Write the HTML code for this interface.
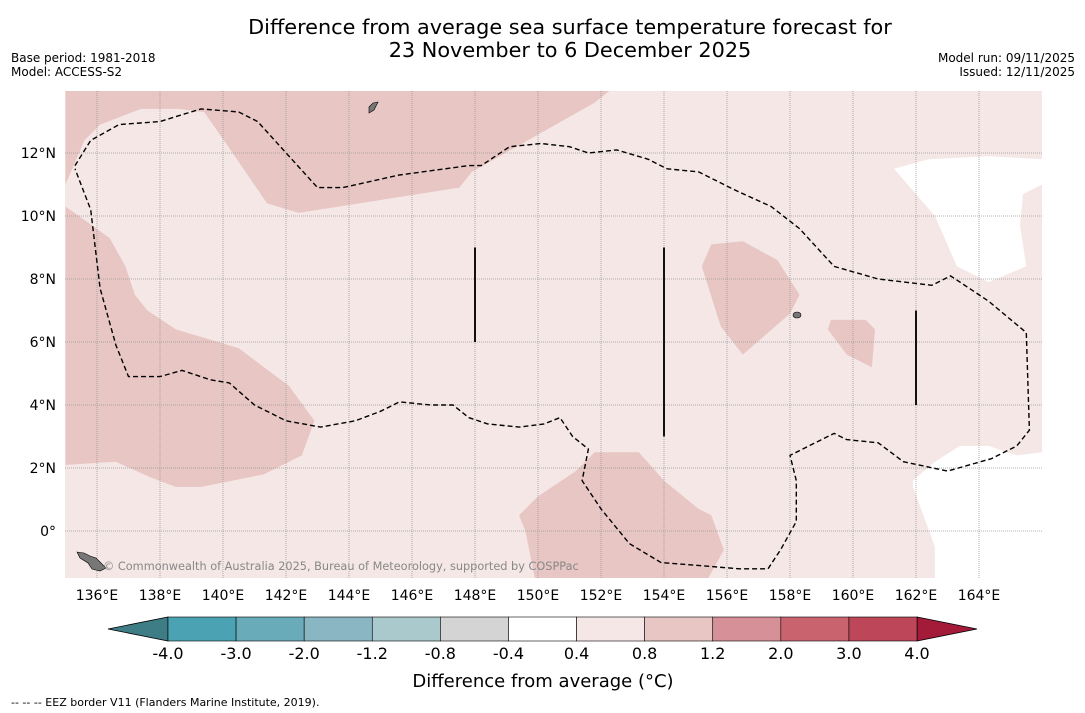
<!DOCTYPE html>
<html><head><meta charset="utf-8">
<style>
body{margin:0;background:#fff;font-family:"DejaVu Sans","Liberation Sans",sans-serif;}
svg{display:block}
</style></head><body>
<svg id="chart" width="1085" height="713" viewBox="0 0 1085 713">
<rect width="1085" height="713" fill="#fff"/>
<text x="570" y="34" text-anchor="middle" font-size="20.8">Difference from average sea surface temperature forecast for</text>
<text x="570" y="57" text-anchor="middle" font-size="20.8">23 November to 6 December 2025</text>
<text x="11" y="62" font-size="12">Base period: 1981-2018</text>
<text x="11" y="76" font-size="12">Model: ACCESS-S2</text>
<text x="1075" y="62" font-size="12" text-anchor="end">Model run: 09/11/2025</text>
<text x="1075" y="76" font-size="12" text-anchor="end">Issued: 12/11/2025</text>
<g id="map"></g>
<g id="cbar"></g>
<text x="543" y="687" text-anchor="middle" font-size="18">Difference from average (°C)</text>
<text x="11" y="706" font-size="11">--  --  -- EEZ border V11 (Flanders Marine Institute, 2019).</text>
</svg>
<script>
const NS="http://www.w3.org/2000/svg";
const lonTicks=[136,138,140,142,144,146,148,150,152,154,156,158,160,162,164];
const latTicks=[0,2,4,6,8,10,12];
const darkTop=[[135,14],[152.3,14],[151.8,13.6],[147.9,11.4],[147.5,10.9],[142.4,10.1],[141.4,10.4],[140.1,12.3],[139.4,13.3],[138.6,13.4],[137.4,13.4],[136.1,12.9],[135.6,12.4],[135,11.0]];
const darkLeft=[[135,10.3],[136.4,9.3],[136.9,8.4],[137.2,7.5],[137.6,7.0],[138.5,6.4],[140.5,5.8],[142.1,4.6],[142.9,3.5],[142.5,2.4],[141.3,1.8],[139.3,1.4],[138.5,1.4],[137.7,1.7],[136.6,2.2],[135,2.1]];
const darkBottom=[[149.4,0.5],[150,1.1],[151.2,1.9],[151.8,2.5],[153.2,2.5],[154,1.6],[155.1,0.7],[155.5,0.5],[155.9,-0.6],[155.4,-1.5],[149.9,-1.5],[149.6,0.0]];
const darkRight=[[155.5,9.1],[156.5,9.2],[157.6,8.6],[158.3,7.5],[158.0,6.9],[156.5,5.6],[155.8,6.5],[155.2,8.4]];
const darkSmall=[[159.3,6.7],[160.4,6.7],[160.7,6.4],[160.6,5.2],[159.8,5.6],[159.2,6.4]];
const whiteUpper=[[161.3,11.5],[162.4,11.8],[164.3,11.9],[166,11.8],[166,11.0],[165.4,10.7],[165.3,9.7],[165.5,8.4],[164.3,7.9],[163.3,8.4],[162.6,10.0]];
const whiteLower=[[161.9,1.6],[162.6,2.2],[163.4,2.7],[164.3,2.7],[165.2,2.4],[166,2.5],[166,-1.5],[162.6,-1.5],[162.6,-0.5],[161.9,1.4]];
const eez=[[135.3,11.6],[135.8,12.4],[136.7,12.9],[138,13.0],[139.3,13.4],[140.5,13.3],[141.1,13.0],[143.0,10.9],[143.8,10.9],[145.6,11.3],[147.8,11.6],[148.2,11.6],[149.1,12.2],[150.1,12.3],[151,12.2],[151.6,12.0],[152.5,12.1],[153.5,11.8],[154.1,11.5],[155.1,11.4],[156.3,10.8],[157.4,10.3],[158.3,9.6],[159.4,8.4],[160.8,8.0],[162.5,7.8],[163.1,8.1],[164.3,7.3],[165.5,6.3],[165.6,3.2],[165.2,2.7],[164.4,2.3],[163.0,1.9],[161.6,2.2],[160.8,2.8],[159.8,2.9],[159.4,3.1],[158.6,2.7],[158.0,2.4],[158.2,1.6],[158.2,0.3],[157.7,-0.6],[157.3,-1.2],[156.4,-1.2],[153.9,-1.0],[152.9,-0.4],[152,0.7],[151.4,1.6],[151.6,2.6],[151.1,3.0],[150.7,3.6],[150.2,3.4],[149.4,3.3],[148.4,3.4],[147.8,3.6],[147.3,4.0],[146.6,4.0],[145.6,4.1],[145,3.8],[144.2,3.5],[143.1,3.3],[142,3.5],[141,4.0],[140.2,4.7],[139.6,4.8],[138.7,5.1],[138,4.9],[137,4.9],[136.6,5.9],[136.1,7.7],[135.8,10.2],[135.3,11.5]];
const blackLines=[[148,9,6],[154,9,3],[162,7,4]];
const cbLevels=["-4.0","-3.0","-2.0","-1.2","-0.8","-0.4","0.4","0.8","1.2","2.0","3.0","4.0"];
const cbColors=["#4aa2b2","#69abb9","#89b6c2","#a9c9cc","#d4d4d4","#ffffff","#f4e7e6","#e7c6c3","#d69097","#c9646f","#bd4658"];

const X0=65,X1=1042,Y0=91,Y1=578;
const lx=l=>97+(l-136)*31.5;
const ly=a=>531-a*31.5;
const map=document.getElementById('map');
function mk(tag,at,parent){const e=document.createElementNS(NS,tag);for(const k in at)e.setAttribute(k,at[k]);(parent||map).appendChild(e);return e;}
const clip=mk('clipPath',{id:'mc'});mk('rect',{x:X0,y:Y0,width:X1-X0,height:Y1-Y0},clip);
const g=mk('g',{'clip-path':'url(#mc)'});
const bg=mk('rect',{x:X0,y:Y0,width:X1-X0,height:Y1-Y0,fill:'#f4e7e6'},g);


const pts=a=>a.map(p=>lx(p[0]).toFixed(1)+','+ly(p[1]).toFixed(1)).join(' ');
[[darkTop,'#e7c6c3','warm-region-north'],[darkLeft,'#e7c6c3','warm-region-west'],[darkBottom,'#e7c6c3','warm-region-south'],[darkRight,'#e7c6c3','warm-region-east'],[darkSmall,'#e7c6c3','warm-region-small'],[whiteUpper,'#ffffff','neutral-region-northeast'],[whiteLower,'#ffffff','neutral-region-southeast']].forEach(d=>{
  const p=mk('polygon',{points:pts(d[0]),fill:d[1]},g);
  
  
});
lonTicks.forEach(l=>{
  const ln=mk('line',{x1:lx(l),x2:lx(l),y1:Y0,y2:Y1,stroke:'#999','stroke-width':0.8,'stroke-dasharray':'1,1'},g);
  
  
  const t=mk('text',{x:lx(l),y:600,'text-anchor':'middle','font-size':14});
  t.textContent=l+'°E';
  
  
});
latTicks.forEach(a=>{
  const ln=mk('line',{x1:X0,x2:X1,y1:ly(a),y2:ly(a),stroke:'#999','stroke-width':0.8,'stroke-dasharray':'1,1'},g);
  
  
  const t=mk('text',{x:56,y:ly(a)+5,'text-anchor':'end','font-size':14});
  t.textContent=a===0?'0°':a+'°N';
  
  
});
const eL=mk('polyline',{points:pts(eez),fill:'none',stroke:'#000','stroke-width':1.4,'stroke-dasharray':'5,3'},g);


blackLines.forEach(b=>{
  const l=mk('line',{x1:lx(b[0]),x2:lx(b[0]),y1:ly(b[1]),y2:ly(b[2]),stroke:'#111','stroke-width':2},g);
  
  
});
const isl=mk('polygon',{points:'77,552 84,553 90,556 96,558 101,563 106,568 100,571 92,569 88,563 80,558',fill:'#777',stroke:'#000','stroke-width':0.6},g);


const isl2=mk('polygon',{points:'369,107 373,103 378,102 374,110 369,113',fill:'#777',stroke:'#000','stroke-width':0.6},g);


const isl3=mk('ellipse',{cx:797,cy:315,rx:4,ry:3,fill:'#777',stroke:'#000','stroke-width':0.6},g);


const cr=mk('text',{x:103,y:570,'font-size':11.3,fill:'#888'},g);
cr.textContent='© Commonwealth of Australia 2025, Bureau of Meteorology, supported by COSPPac';



// colorbar
const cb=document.getElementById('cbar');
const cx0=168,cx1=917,cy0=617,cy1=641,n=cbColors.length,w=(cx1-cx0)/n;
const tl=mk('polygon',{points:`108,629 ${cx0},${cy0} ${cx0},${cy1}`,fill:'#3e7c86',stroke:'#000','stroke-width':0.8},cb);


const tr=mk('polygon',{points:`977,629 ${cx1},${cy0} ${cx1},${cy1}`,fill:'#a41b3a',stroke:'#000','stroke-width':0.8},cb);


cbColors.forEach((c,i)=>{
  const r=mk('rect',{x:cx0+i*w,y:cy0,width:w,height:cy1-cy0,fill:c,stroke:'#000','stroke-width':0.6},cb);
  
  
});
cbLevels.forEach((s,i)=>{
  const t=mk('text',{x:cx0+i*w,y:659,'text-anchor':'middle','font-size':16},cb);
  t.textContent=s;
  
  
});
</script>
</body></html>
